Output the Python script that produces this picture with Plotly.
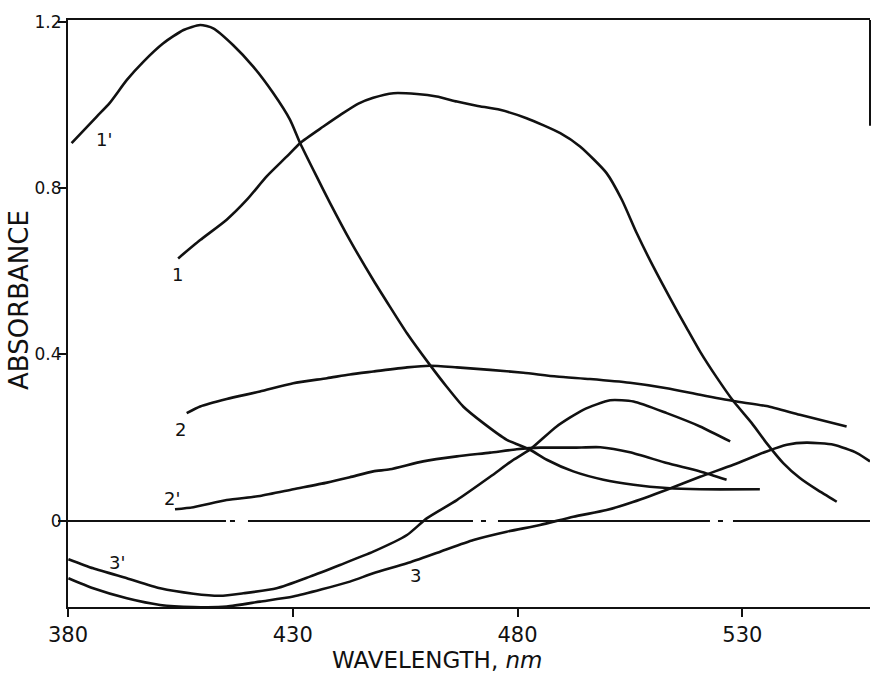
import plotly.graph_objects as go

# ---- data (wavelength nm, absorbance) ----
wl_1p = [380.8, 386.4, 389.3, 393.1, 396.8, 401.2, 405.7, 409.4, 412.3, 416.7, 421.2, 425.6,
         429.4, 431.6, 435.3, 438.3, 442.7, 447.9, 451.6, 455.4, 460.5, 464.2, 467.9, 472.4,
         477.6, 482.8, 486.5, 492.4, 499.1, 505.8, 513.2, 520.6, 533.9]
ab_1p = [0.908, 0.972, 1.005, 1.060, 1.104, 1.148, 1.180, 1.192, 1.184, 1.144, 1.092, 1.029,
         0.964, 0.909, 0.828, 0.764, 0.675, 0.579, 0.515, 0.451, 0.375, 0.323, 0.275, 0.235,
         0.195, 0.171, 0.147, 0.119, 0.099, 0.087, 0.079, 0.076, 0.076]

wl_1 = [404.5, 409.4, 415.3, 419.8, 424.2, 428.7, 431.6, 436.8, 440.6, 444.6, 447.9, 452.4,
        457.6, 462.0, 466.5, 470.9, 476.1, 482.0, 489.5, 493.9, 499.8, 503.2, 506.5, 510.2,
        513.9, 517.6, 520.6, 524.3, 528.0, 532.1, 535.4, 539.1, 542.8, 546.6, 551.0]
ab_1 = [0.631, 0.675, 0.724, 0.772, 0.828, 0.876, 0.908, 0.948, 0.976, 1.003, 1.017, 1.028,
        1.026, 1.020, 1.008, 0.998, 0.988, 0.968, 0.932, 0.900, 0.836, 0.772, 0.692, 0.611,
        0.536, 0.464, 0.407, 0.345, 0.288, 0.235, 0.187, 0.139, 0.103, 0.075, 0.046]

wl_2 = [406.4, 409.4, 415.3, 422.7, 430.1, 437.6, 442.7, 447.9, 455.4, 460.5, 466.5, 473.9,
        481.3, 488.7, 496.1, 505.0, 513.2, 520.6, 528.0, 535.4, 542.8, 553.2]
ab_2 = [0.259, 0.275, 0.293, 0.311, 0.331, 0.343, 0.352, 0.359, 0.369, 0.373, 0.369, 0.363,
        0.356, 0.347, 0.341, 0.332, 0.319, 0.303, 0.288, 0.276, 0.255, 0.227]

wl_2p = [403.8, 407.9, 415.3, 422.7, 430.1, 437.6, 442.7, 447.9, 451.6, 459.0, 466.5, 473.9,
         479.8, 485.0, 492.4, 498.4, 505.0, 513.2, 520.6, 526.5]
ab_2p = [0.028, 0.033, 0.050, 0.060, 0.076, 0.092, 0.105, 0.119, 0.124, 0.143, 0.155, 0.164,
         0.172, 0.176, 0.176, 0.177, 0.165, 0.139, 0.119, 0.099]

wl_3p = [380.1, 385.6, 393.1, 400.5, 407.9, 413.8, 419.0, 426.4, 433.8, 440.5, 447.9, 455.4,
         459.8, 466.5, 473.9, 479.1, 482.8, 488.7, 494.6, 500.6, 505.8, 513.2, 520.6, 527.3]
ab_3p = [-0.092, -0.114, -0.138, -0.162, -0.175, -0.180, -0.174, -0.162, -0.134, -0.106,
         -0.074, -0.034, 0.006, 0.050, 0.106, 0.147, 0.172, 0.227, 0.267, 0.290, 0.287,
         0.259, 0.227, 0.191]

wl_3 = [380.1, 385.6, 393.1, 400.5, 407.9, 415.3, 422.7, 430.1, 442.7, 447.9, 455.4, 462.8,
        470.2, 477.6, 485.0, 492.4, 499.8, 505.0, 513.2, 520.6, 528.0, 535.4, 539.9, 544.3,
        550.3, 555.5, 558.4]
ab_3 = [-0.138, -0.162, -0.186, -0.202, -0.207, -0.206, -0.194, -0.182, -0.146, -0.126,
        -0.102, -0.074, -0.046, -0.026, -0.010, 0.010, 0.026, 0.043, 0.075, 0.106, 0.135,
        0.167, 0.183, 0.188, 0.183, 0.163, 0.143]

x_ticks = [380, 430, 480, 530]
y_ticks = [0, 0.4, 0.8, 1.2]
y_tick_text = ["0", "0.4", "0.8", "1.2"]

series = [(wl_1p, ab_1p), (wl_1, ab_1), (wl_2, ab_2), (wl_2p, ab_2p), (wl_3p, ab_3p), (wl_3, ab_3)]

INK = "#111111"
FONT = "DejaVu Sans"

fig = go.Figure()
for wl, ab in series:
    fig.add_trace(go.Scatter(x=wl, y=ab, mode="lines",
                             line=dict(color=INK, width=2.6, shape="spline", smoothing=0.6),
                             showlegend=False, hoverinfo="skip"))

# curve labels
labels = [("1'", 388.0, 0.916), ("1", 404.4, 0.592), ("2", 405.0, 0.219),
          ("2'", 403.2, 0.055), ("3'", 390.8, -0.099), ("3", 457.2, -0.132)]
for txt, lx, ly in labels:
    fig.add_annotation(x=lx, y=ly, text=txt, showarrow=False,
                       font=dict(family=FONT, size=18, color=INK))

# dash-dot zero line
fig.add_shape(type="line", xref="paper", yref="y", x0=-0.01, x1=1.0, y0=0, y1=0,
              line=dict(color=INK, width=2,
                        dash="166px,4px,5px,13px,225px,8px,5px,12px,212px,8px,5px,10px,140px"))
# partial right border
fig.add_shape(type="line", xref="paper", yref="paper", x0=1.0, x1=1.0, y0=1.0, y1=0.82,
              line=dict(color=INK, width=2))

# axis titles
fig.add_annotation(xref="paper", yref="paper", x=(437 - 68) / 802, y=-(660 - 607) / 587,
                   xanchor="center", yanchor="middle",
                   text="WAVELENGTH, <i>nm</i>", showarrow=False,
                   font=dict(family=FONT, size=23, color=INK))
fig.add_annotation(xref="paper", yref="paper", x=-(68 - 19) / 802, y=(607 - 300) / 587,
                   xanchor="center", yanchor="middle",
                   text="ABSORBANCE", showarrow=False, textangle=-90,
                   font=dict(family=FONT, size=26, color=INK))

fig.update_layout(
    width=871, height=675,
    margin=dict(l=68, r=1, t=20, b=68),
    paper_bgcolor="white", plot_bgcolor="white",
    font=dict(family=FONT, color=INK),
    xaxis=dict(range=[380, 558.4], tickvals=x_ticks, ticks="outside", ticklen=8,
               tickwidth=2, tickcolor=INK, showline=True, linecolor=INK, linewidth=2,
               mirror=True, showgrid=False, zeroline=False,
               tickfont=dict(family=FONT, size=21, color=INK)),
    yaxis=dict(range=[-0.207, 1.204], tickvals=y_ticks, ticktext=y_tick_text,
               ticks="outside", ticklen=8, tickwidth=2, tickcolor=INK,
               ticklabelstandoff=-7,
               showline=True, linecolor=INK, linewidth=2, showgrid=False, zeroline=False,
               tickfont=dict(family=FONT, size=17, color=INK)),
)

fig.write_html("out.html", config={"displayModeBar": False},
               post_script="document.body.style.margin='0px';")
